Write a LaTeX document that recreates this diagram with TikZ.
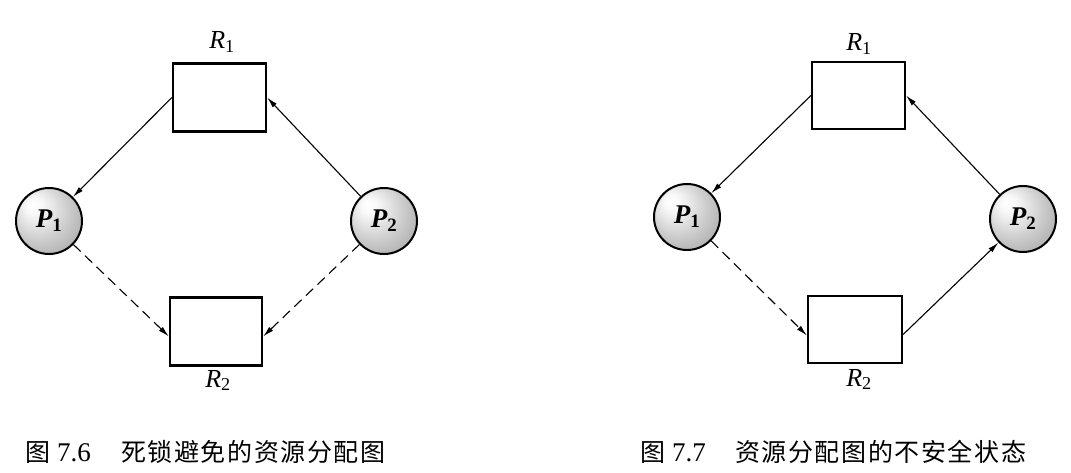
\documentclass[tikz,border=0pt]{standalone}
\usepackage{fontspec}
\setmainfont{Liberation Serif}
\newfontfamily\cjk{Noto Sans CJK SC}
\usetikzlibrary{arrows.meta}
\pgfdeclareradialshading{myball}{\pgfpoint{-13bp}{13bp}}{color(0bp)=(white); color(6bp)=(gray!5); color(14bp)=(gray!22); color(22bp)=(gray!40); color(32bp)=(gray!60); color(44bp)=(gray!72); color(50bp)=(gray!75)}
\newcommand\cc[1]{\makebox[26.6pt]{\cjk #1}}
\tikzset{
  resbox/.style={draw, line width=2.2pt, minimum width=#1, minimum height=68pt, inner sep=0pt},
  procnode/.style={circle, draw, line width=2pt, minimum size=66pt, inner sep=0pt, shading=myball},
  rlbl/.style={font=\fontsize{26}{30}\selectfont, inner sep=0pt},
  plbl/.style={font=\fontsize{27}{30}\selectfont\bfseries\itshape, inner sep=0pt},
  conn/.style={line width=1.1pt, -{Latex[length=11pt,width=5.5pt]}},
  dconn/.style={conn, dash pattern=on 10pt off 6pt},
  captxt/.style={font=\fontsize{25}{30}\selectfont, inner sep=0pt, anchor=base west}
}
\begin{document}
\begin{tikzpicture}[x=1pt,y=-1pt]
\useasboundingbox (0,0) rectangle (1071,473);
% ---- left figure ----
\node[resbox=93pt] (aR1) at (219.5,97.5) {};
\node[resbox=92pt] (aR2) at (216,331.5) {};
\node[procnode] (aP1) at (49,221) {};
\node[procnode] (aP2) at (384,221) {};
\node[plbl] (aP1t) at (aP1) {P\textsubscript{\upshape 1}};
\node[plbl] (aP2t) at (aP2) {P\textsubscript{\upshape 2}};
\node[rlbl, anchor=base] (aR1t) at (222,49) {\textit{R}\textsubscript{1}};
\node[rlbl, anchor=base] (aR2t) at (218,387) {\textit{R}\textsubscript{2}};
\draw[conn] (aR1.west) -- (aP1);
\draw[conn] (aP2) -- (aR1.east);
\draw[dconn] (aP1) -- ([yshift=-5pt]aR2.west);
\draw[dconn] (aP2) -- ([yshift=-5pt]aR2.east);
% ---- right figure ----
\node[resbox=93pt, minimum height=67pt] (bR1) at (858.5,95.5) {};
\node[resbox=94pt, minimum height=67pt] (bR2) at (855,329.5) {};
\node[procnode] (bP1) at (687,217) {};
\node[procnode] (bP2) at (1023,219) {};
\node[plbl] (bP1t) at (bP1) {P\textsubscript{\upshape 1}};
\node[plbl] (bP2t) at (bP2) {P\textsubscript{\upshape 2}};
\node[rlbl, anchor=base] (bR1t) at (859,51) {\textit{R}\textsubscript{1}};
\node[rlbl, anchor=base] (bR2t) at (859,386) {\textit{R}\textsubscript{2}};
\draw[conn] (bR1.west) -- (bP1);
\draw[conn] (bP2) -- (bR1.east);
\draw[dconn] (bP1) -- ([yshift=-6pt]bR2.west);
\draw[conn] ([yshift=-5pt]bR2.east) -- (bP2);
% ---- captions ----
\node[captxt] (c1a) at (25,461) {\cjk 图};
\node[captxt, font=\fontsize{27}{30}\selectfont] (c1b) at (57,461) {7.6};
\node[captxt] (c1c) at (120,461) {\cc{死}\cc{锁}\cc{避}\cc{免}\cc{的}\cc{资}\cc{源}\cc{分}\cc{配}\cc{图}};
\node[captxt] (c2a) at (640,461) {\cjk 图};
\node[captxt, font=\fontsize{27}{30}\selectfont] (c2b) at (672,461) {7.7};
\node[captxt] (c2c) at (734,461) {\cc{资}\cc{源}\cc{分}\cc{配}\cc{图}\cc{的}\cc{不}\cc{安}\cc{全}\cc{状}\cc{态}};
\end{tikzpicture}
\end{document}
